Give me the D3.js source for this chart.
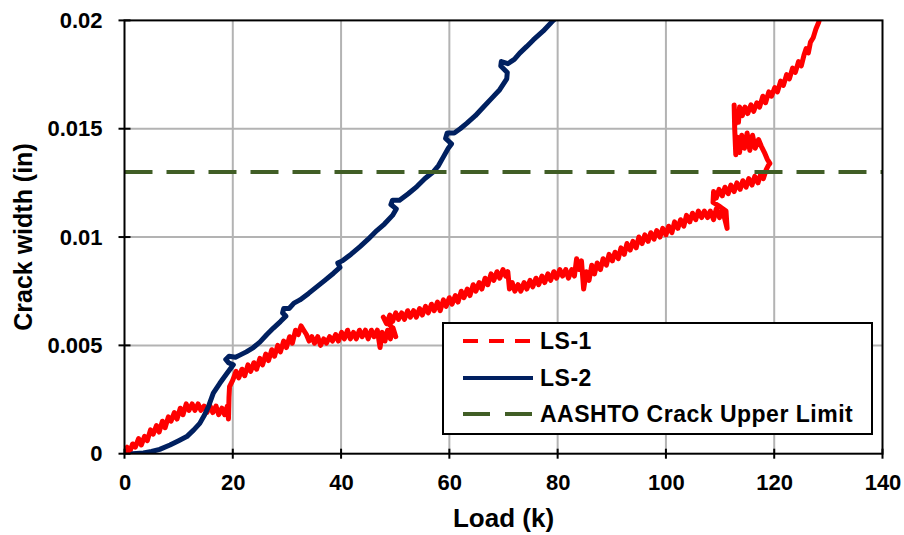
<!DOCTYPE html>
<html>
<head>
<meta charset="utf-8">
<script src="https://cdn.jsdelivr.net/npm/d3@7"></script>
<style>
  body { margin: 0; background: #fff; }
  text { font-family: "Liberation Sans", Arial, sans-serif; font-weight: bold; fill: #000; }
</style>
</head>
<body>
<div id="chart"></div>
<script>
// tick values / labels
var xTicks = [0, 20, 40, 60, 80, 100, 120, 140]
var yTicks = [0, 0.005, 0.01, 0.015, 0.02]
var yTickLabels = ["0", "0.005", "0.01", "0.015", "0.02"]
var seriesNames = ["LS-1", "LS-2", "AASHTO Crack Upper Limit"]

// AASHTO limit (in)
var aashtoLimit = [[0, 0.013], [140, 0.013]]

// LS-1 [load (k), crack width (in)] - noisy gauge trace
var ls1 = [[0,0],[0.5,0.0003],[1,0.0001],[1.5,0.00045],[2,0.0003],[2.6,0.0007],[3.1,0.0004],[3.7,0.0008],[4.2,0.0006],[4.8,0.0011],[5.3,0.0009],[5.9,0.0013],[6.4,0.001],[7,0.0015],[7.5,0.0012],[8.1,0.0017],[8.6,0.0015],[9.2,0.0019],[9.7,0.0016],[10.3,0.0021],[10.8,0.0018],[11.4,0.0023],[11.9,0.0020],[12.5,0.0023],[13,0.0020],[13.6,0.0023],[14.1,0.0020],[14.7,0.0022],[15.2,0.0019],[15.8,0.0022],[16.3,0.0019],[16.9,0.0022],[17.4,0.0018],[18,0.0021],[18.5,0.0018],[19,0.0022],[19.2,0.0016],[19.3,0.0026],[19.4,0.0031],
  [20,0.0034],[20.6,0.0038],[21.1,0.0035],[21.7,0.0039],[22.2,0.0036],[22.8,0.0041],[23.3,0.0038],[23.9,0.0042],[24.4,0.0039],[25,0.0044],[25.5,0.0041],[26.1,0.0046],[26.6,0.0043],[27.2,0.0048],[27.7,0.0045],[28.3,0.0050],[28.8,0.0047],[29.4,0.0052],[29.9,0.0049],[30.5,0.0054],[31,0.0051],[31.6,0.0057],[32.1,0.0055],[32.6,0.0059],[33.1,0.0057],
  [33.6,0.0055],[34.1,0.0052],[34.6,0.0054],[35.1,0.0051],[35.7,0.0054],[36.2,0.0050],[36.8,0.0053],[37.3,0.0051],[37.9,0.0054],[38.4,0.0052],[39,0.0055],[39.5,0.0052],[40.1,0.0056],[40.6,0.0053],[41.2,0.0057],[41.7,0.0053],[42.3,0.0056],[42.8,0.0053],[43.4,0.0057],[43.9,0.0054],[44.5,0.0057],[45,0.0053],[45.6,0.0057],[46.1,0.0054],[46.7,0.0057],[47.2,0.0049],[47.6,0.0056],[48.1,0.0052],[48.6,0.0057],[49.1,0.0053],[49.6,0.0058],[50.1,0.0054],[49.2,0.0059],[48.3,0.0061],[47.8,0.0063],
  [48.4,0.0060],[49,0.0064],[49.5,0.0061],[50.1,0.0065],[50.6,0.0062],[51.2,0.0065],[51.7,0.0062],[52.3,0.0066],[52.8,0.0063],[53.4,0.0066],[53.9,0.0063],[54.5,0.0067],[55,0.0064],[55.6,0.0068],[56.1,0.0065],[56.7,0.0069],[57.2,0.0066],[57.8,0.0070],[58.3,0.0066],[58.9,0.0071],[59.4,0.0068],[60,0.0072],[60.5,0.0069],[61.1,0.0073],[61.6,0.0070],[62.2,0.0075],[62.7,0.0072],[63.3,0.0076],[63.8,0.0073],[64.4,0.0078],[64.9,0.0075],[65.5,0.0079],[66,0.0076],[66.6,0.0081],[67.1,0.0078],[67.7,0.0083],[68.2,0.0080],[68.8,0.0084],[69.3,0.0081],[69.9,0.0085],[70.4,0.0082],[70.8,0.0084],[71.1,0.0076],[71.6,0.0079],[72.1,0.0075],[72.7,0.0078],[73.2,0.0075],[73.8,0.0079],[74.3,0.0076],[74.9,0.0080],[75.4,0.0077],[76,0.0081],[76.5,0.0078],[77.1,0.0082],[77.6,0.0079],[78.2,0.0083],[78.7,0.0080],[79.3,0.0084],[79.8,0.0081],[80.4,0.0085],[80.9,0.0082],[81.5,0.0085],[82,0.0081],[82.6,0.0085],[83.1,0.0082],[83.5,0.0090],[84,0.0085],[84.4,0.0089],[84.8,0.0076],[85.3,0.0084],[85.8,0.0080],[86.3,0.0087],[86.8,0.0083],[87.3,0.0088],[87.9,0.0085],[88.4,0.0090],[89,0.0087],[89.5,0.0092],[90.1,0.0089],[90.6,0.0093],[91.2,0.0090],[91.7,0.0095],[92.3,0.0092],[92.8,0.0097],[93.4,0.0094],[93.9,0.0098],[94.5,0.0095],[95,0.0100],[95.6,0.0097],[96.1,0.0101],[96.7,0.0098],[97.2,0.0102],[97.8,0.0099],[98.3,0.0103],[98.9,0.0100],[99.4,0.0104],[100,0.0101],[100.5,0.0105],[101.1,0.0102],[101.6,0.0107],[102.2,0.0104],[102.7,0.0108],[103.3,0.0105],[103.8,0.0110],[104.4,0.0107],[104.9,0.0111],[105.5,0.0108],[106,0.0112],[106.6,0.0109],[107.1,0.0112],[107.7,0.0109],[108.2,0.0112],[108.8,0.0108],[109.3,0.0113],[109.9,0.0109],[110.4,0.0113],[110.9,0.0108],[111.3,0.0104],[111.1,0.0112],[110,0.0114],[108.7,0.0116],[108.8,0.0121],
  [109.3,0.0118],[109.8,0.0122],[110.4,0.0119],[110.9,0.0123],[111.5,0.0120],[112,0.0124],[112.6,0.0121],[113.1,0.0125],[113.7,0.0122],[114.2,0.0126],[114.8,0.0123],[115.3,0.0127],[115.9,0.0124],[116.4,0.0128],[117,0.0125],[117.5,0.0129],[118,0.0127],[118.5,0.0131],[118.9,0.0133],[119.2,0.0134],
  [118.7,0.0136],[118.2,0.0139],[117.6,0.0142],[117.1,0.0145],[116.5,0.0141],[116,0.0147],[115.5,0.0140],[115,0.0148],[114.5,0.0141],[114,0.0147],[113.6,0.0139],[113.2,0.0146],[112.9,0.0138],[112.7,0.0150],[112.6,0.0161],[112.8,0.0152],[113.2,0.0158],[113.4,0.0153],[113.6,0.0160],
  [114.1,0.0156],[114.6,0.0160],[115.1,0.0157],[115.7,0.0161],[116.2,0.0158],[116.8,0.0162],[117.3,0.0160],[117.9,0.0165],[118.4,0.0162],[119,0.0167],[119.5,0.0165],[120.1,0.0169],[120.6,0.0167],[121.2,0.0172],[121.7,0.0170],[122.3,0.0175],[122.8,0.0173],[123.4,0.0178],[123.9,0.0176],[124.5,0.0181],[125,0.0179],[125.5,0.0184],[125.9,0.0187],[126.3,0.0185],[126.7,0.0190],[127.2,0.0192],[127.7,0.0196],[128.2,0.0199],[128.6,0.0203]]

// LS-2 [load (k), crack width (in)] - hooks are the load holds
var ls2 = [[1.5,0],[3.5,0.00003],[5,0.0001],[6.5,0.0002],[8.4,0.0004],[10,0.0006],[11.5,0.00079],[12.8,0.0011],[13.9,0.0014],[14.8,0.0018],[15.5,0.00217],[16.4,0.0028],[17.6,0.00325],[18.9,0.0037],[20.1,0.0041],[19.2,0.0042],[18.7,0.00435],[19.3,0.0045],[20.5,0.00445],[21.3,0.00455],[22.5,0.0047],[23.8,0.0049],[25,0.00515],[26.3,0.0055],[27.5,0.0058],[28.8,0.0061],[29.8,0.00635],[29.2,0.0065],[29.4,0.0067],[30.4,0.0067],[31.3,0.00695],[32.4,0.0071],[34,0.0074],[35.5,0.0077],[37,0.0080],[38.6,0.00833],[39.8,0.0086],[39.4,0.0088],[40.2,0.0089],[41.8,0.0092],[43.5,0.00956],[45,0.0099],[46.6,0.0103],[48,0.0106],[49.5,0.0110],[50.2,0.0113],[49.2,0.0115],[49.5,0.0117],[50.8,0.0117],[52.4,0.0120],[54,0.01233],[55.5,0.0127],[57,0.0130],[58,0.0133],[58.9,0.0137],[59.8,0.0141],[60.4,0.0143],[59.3,0.01455],[59.6,0.0148],[60.9,0.0148],[62,0.0150],[63.2,0.01525],[64.8,0.0156],[66.3,0.016],[67.8,0.0164],[69.3,0.0168],[70.6,0.0173],[70.7,0.0176],[69.5,0.0179],[69.6,0.0181],[70.8,0.0180],[72,0.0182],[73,0.01849],[74.3,0.0188],[75.5,0.0191],[77.3,0.0195],[79.2,0.0200],[80,0.0202]]

var width = 904, height = 535
var margin = {top: 20.4, right: 21.5, bottom: 81.3, left: 124.5}
var pw = width - margin.left - margin.right,
    ph = height - margin.top - margin.bottom

var svg = d3.select('#chart').append('svg')
  .attr('width', width)
  .attr('height', height)

var g = svg.append('g')
  .attr('transform', 'translate(' + margin.left + ',' + margin.top + ')')

var x = d3.scaleLinear().domain([0, 140]).range([0, pw])
var y = d3.scaleLinear().domain([0, 0.02]).range([ph, 0])

g.append('defs').append('clipPath').attr('id', 'clip')
  .append('rect').attr('width', pw).attr('height', ph)

// grid
g.append('g').selectAll('line').data(xTicks.slice(1, -1)).enter().append('line')
  .attr('x1', d => x(d)).attr('x2', d => x(d))
  .attr('y1', 0).attr('y2', ph)
  .attr('stroke', '#b3b3b3').attr('stroke-width', 2)
g.append('g').selectAll('line').data(yTicks.slice(1, -1)).enter().append('line')
  .attr('y1', d => y(d)).attr('y2', d => y(d))
  .attr('x1', 0).attr('x2', pw)
  .attr('stroke', '#b3b3b3').attr('stroke-width', 2)

var line = d3.line().x(d => x(d[0])).y(d => y(d[1]))
var plot = g.append('g').attr('clip-path', 'url(#clip)')

plot.append('path').datum(ls1)
  .attr('d', line).attr('fill', 'none')
  .attr('stroke', '#ff0000').attr('stroke-width', 5)
  .attr('stroke-linejoin', 'round')

plot.append('path').datum(ls2)
  .attr('d', line).attr('fill', 'none')
  .attr('stroke', '#002060').attr('stroke-width', 5)
  .attr('stroke-linejoin', 'round').attr('stroke-linecap', 'round')

plot.append('path').datum(aashtoLimit)
  .attr('d', line).attr('fill', 'none')
  .attr('stroke', '#415e26').attr('stroke-width', 4)
  .attr('stroke-dasharray', '28,14')

// frame
g.append('rect').attr('width', pw).attr('height', ph)
  .attr('fill', 'none').attr('stroke', '#000').attr('stroke-width', 2)

// axes (ticks cross the axis lines)
var xAxis = g.append('g').attr('transform', 'translate(0,' + ph + ')')
  .call(d3.axisBottom(x).tickValues(xTicks).tickSize(0).tickPadding(21))
xAxis.select('.domain').remove()
xAxis.selectAll('text').style('font-size', '22px').style('font-family', null)
g.append('g').selectAll('line').data(xTicks).enter().append('line')
  .attr('x1', d => x(d)).attr('x2', d => x(d))
  .attr('y1', ph - 5).attr('y2', ph + 5)
  .attr('stroke', '#000').attr('stroke-width', 2)

var yAxis = g.append('g')
  .call(d3.axisLeft(y).tickValues(yTicks).tickFormat((d, i) => yTickLabels[i]).tickSize(0).tickPadding(22))
yAxis.select('.domain').remove()
yAxis.selectAll('text').style('font-size', '22px').style('font-family', null)
g.append('g').selectAll('line').data(yTicks).enter().append('line')
  .attr('y1', d => y(d)).attr('y2', d => y(d))
  .attr('x1', -6).attr('x2', 6)
  .attr('stroke', '#000').attr('stroke-width', 2)

// axis titles
svg.append('text')
  .attr('x', margin.left + pw / 2).attr('y', 527)
  .style('text-anchor', 'middle').style('font-size', '26px')
  .text('Load (k)')
svg.append('text')
  .attr('transform', 'translate(32,' + (margin.top + ph / 2) + ') rotate(-90)')
  .style('text-anchor', 'middle').style('font-size', '25px')
  .text('Crack width (in)')

// legend
var legend = svg.append('g')
legend.append('rect').attr('x', 443).attr('y', 323).attr('width', 429).attr('height', 111)
  .attr('fill', '#fff').attr('stroke', '#000').attr('stroke-width', 2)
var legendY = [341, 378, 414]
var legendStyle = [
  {color: '#ff0000', dash: '15,11', w: 4},
  {color: '#002060', dash: null, w: 4},
  {color: '#415e26', dash: '27,15', w: 4}
]
seriesNames.forEach(function(name, i) {
  legend.append('line')
    .attr('x1', 463).attr('x2', 533)
    .attr('y1', legendY[i]).attr('y2', legendY[i])
    .attr('stroke', legendStyle[i].color).attr('stroke-width', legendStyle[i].w)
    .attr('stroke-dasharray', legendStyle[i].dash)
  legend.append('text')
    .attr('x', 540).attr('y', legendY[i] + 8)
    .style('font-size', '23px').style('letter-spacing', '0.5px')
    .text(name)
})
</script>
</body>
</html>
